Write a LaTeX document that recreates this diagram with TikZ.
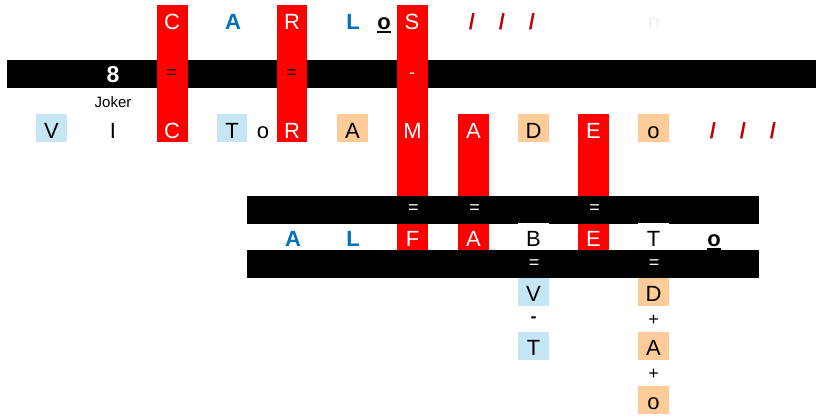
\documentclass[tikz,border=0pt]{standalone}
\usepackage{fontspec}
\setmainfont{Liberation Sans}
\definecolor{lblue}{HTML}{C5E6F5}
\definecolor{lorange}{HTML}{FFCC99}
\definecolor{tblue}{HTML}{0070C0}
\definecolor{dred}{HTML}{C00000}
\definecolor{ngray}{HTML}{F2F2F2}
\begin{document}
\begin{tikzpicture}[x=1pt,y=-1pt,
  ltr/.style={font=\fontsize{22}{22}\selectfont, anchor=base, inner sep=0pt},
  wl/.style={ltr, text=white},
  bl/.style={ltr, font=\fontsize{22}{22}\selectfont\bfseries, text=tblue},
  sl/.style={ltr, font=\fontsize{22}{22}\selectfont\bfseries, text=dred},
  ub/.style={ltr, font=\fontsize{22}{22}\selectfont\bfseries},
  sm/.style={font=\fontsize{18}{18}\selectfont, inner sep=0pt, anchor=center},
  smw/.style={sm, text=white},
  ul/.style={line width=2pt}]
\useasboundingbox (0,0) rectangle (816,416);
% first band
\fill[black] (7,60) rectangle (816,88);
\fill[white] (97,87.5) rectangle (128,89);
% red columns
\fill[red] (157,5) rectangle (188,142);
\fill[red] (277,5) rectangle (307,142);
\fill[red] (397,5) rectangle (428,196);
\fill[red] (458,114) rectangle (489,196);
\fill[red] (578,114) rectangle (609,196);
% row B boxes
\fill[lblue] (36,114) rectangle (67,142);
\fill[lblue] (217,114) rectangle (247,142);
\fill[lorange] (337,114) rectangle (368,142);
\fill[lorange] (518,114) rectangle (549,142);
\fill[lorange] (638,114) rectangle (669,142);
% second and third bands
\fill[black] (247,196) rectangle (759,224);
\fill[black] (247,250) rectangle (759,278);
% row C boxes
\fill[red] (397,224) rectangle (428,250);
\fill[red] (458,224) rectangle (489,250);
\fill[red] (578,224) rectangle (609,250);
\fill[white] (518,223) rectangle (549,250);
\fill[white] (638,223) rectangle (669,250);
% lower boxes
\fill[lblue] (518,278) rectangle (549,306);
\fill[lblue] (518,332) rectangle (549,360);
\fill[lorange] (638,278) rectangle (669,306);
\fill[lorange] (638,332) rectangle (669,360);
\fill[lorange] (638,386) rectangle (669,414);

% top row
\node[wl] (a1) at (172,29) {C};
\node[bl] (a2) at (233,29) {A};
\node[wl] (a3) at (292,29) {R};
\node[bl] (a4) at (353,29) {L};
\node[ub] (a5) at (384,29) {o};
\draw[ul] ([yshift=-2.5pt]a5.base west) -- ([yshift=-2.5pt]a5.base east);
\node[wl] (a6) at (412,29) {S};
\node[sl] (a7) at (472,29) {/};
\node[sl] (a8) at (502,29) {/};
\node[sl] (a9) at (532,29) {/};
\node[ltr, text=ngray] (a10) at (654,29) {n};

% first band contents
\node[sm] (e1) at (172,74) {=};
\node[sm] (e2) at (292,74) {=};
\node[smw] (e3) at (412,76) {-};
\node[ltr, font=\fontsize{23}{23}\selectfont\bfseries, text=white] (eight) at (113,82) {8};
\node[anchor=base, inner sep=0pt, font=\fontsize{15}{15}\selectfont] (joker) at (113,107) {Joker};

% row B
\node[ltr] (b1) at (51.5,138) {V};
\node[ltr] (b2) at (113,138) {I};
\node[wl] (b3) at (172,138) {C};
\node[ltr] (b4) at (232,138) {T};
\node[ltr] (b5) at (263,138) {o};
\node[wl] (b6) at (292,138) {R};
\node[ltr] (b7) at (352.5,138) {A};
\node[wl] (b8) at (412.5,138) {M};
\node[wl] (b9) at (473.5,138) {A};
\node[ltr] (b10) at (533.5,138) {D};
\node[wl] (b11) at (593.5,138) {E};
\node[ltr] (b12) at (653.5,138) {o};
\node[sl] (b13) at (713,138) {/};
\node[sl] (b14) at (743,138) {/};
\node[sl] (b15) at (773,138) {/};

% second band contents
\node[smw] (f1) at (413.5,209.5) {=};
\node[smw] (f2) at (474.5,209.5) {=};
\node[smw] (f3) at (594.5,209.5) {=};

% row C
\node[bl] (c1) at (293,246) {A};
\node[bl] (c2) at (353,246) {L};
\node[wl] (c3) at (412.5,246) {F};
\node[wl] (c4) at (473.5,246) {A};
\node[ltr] (c5) at (533.5,246) {B};
\node[wl] (c6) at (593.5,246) {E};
\node[ltr] (c7) at (653.5,246) {T};
\node[ub] (c8) at (714,246) {o};
\draw[ul] ([yshift=-2.5pt]c8.base west) -- ([yshift=-2.5pt]c8.base east);

% third band contents
\node[smw] (g1) at (534,264) {=};
\node[smw] (g2) at (654,264) {=};

% lower columns
\node[sm, font=\fontsize{18}{18}\selectfont\bfseries] (d2) at (533.5,320) {-};
\node[ltr] (d1) at (533.5,301) {V};
\node[ltr] (d3) at (533.5,355) {T};
\node[ltr] (h1) at (653.5,301) {D};
\node[sm] (h2) at (653.5,320) {+};
\node[ltr] (h3) at (653.5,355) {A};
\node[sm] (h4) at (653.5,374) {+};
\node[ltr] (h5) at (653.5,409) {o};
\end{tikzpicture}
\end{document}
